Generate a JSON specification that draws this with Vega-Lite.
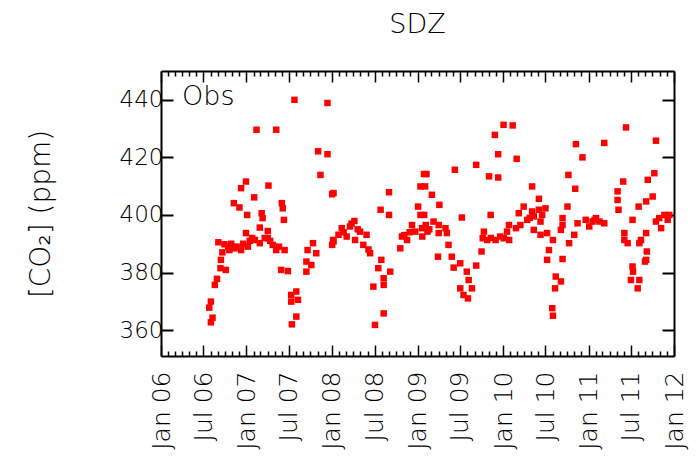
{
  "$schema": "https://vega.github.io/schema/vega-lite/v6.json",
  "width": 513,
  "height": 285,
  "autosize": "none",
  "padding": {"left": 161, "top": 71, "right": 23, "bottom": 112},
  "background": "white",
  "config": {"view": {"stroke": null}, "font": "DejaVu Sans"},
  "title": {"text": "SDZ", "font": "DejaVu Sans", "fontSize": 27, "fontWeight": 200, "color": "black", "offset": 31, "anchor": "middle"},
  "data": {"values": [
    {"date": "2006-07-26", "co2": 367.8},
    {"date": "2006-08-02", "co2": 369.9},
    {"date": "2006-08-02", "co2": 362.7},
    {"date": "2006-08-09", "co2": 364.3},
    {"date": "2006-08-19", "co2": 375.7},
    {"date": "2006-08-28", "co2": 377.8},
    {"date": "2006-09-03", "co2": 390.5},
    {"date": "2006-09-12", "co2": 381.5},
    {"date": "2006-09-14", "co2": 384.4},
    {"date": "2006-09-20", "co2": 387.0},
    {"date": "2006-09-29", "co2": 389.8},
    {"date": "2006-10-05", "co2": 380.9},
    {"date": "2006-10-15", "co2": 389.0},
    {"date": "2006-10-20", "co2": 387.8},
    {"date": "2006-10-28", "co2": 390.0},
    {"date": "2006-11-08", "co2": 404.1},
    {"date": "2006-11-11", "co2": 388.4},
    {"date": "2006-11-20", "co2": 389.0},
    {"date": "2006-12-02", "co2": 402.6},
    {"date": "2006-12-09", "co2": 409.3},
    {"date": "2006-12-09", "co2": 387.8},
    {"date": "2006-12-18", "co2": 390.0},
    {"date": "2006-12-30", "co2": 411.6},
    {"date": "2006-12-30", "co2": 393.7},
    {"date": "2007-01-04", "co2": 400.0},
    {"date": "2007-01-07", "co2": 389.0},
    {"date": "2007-01-15", "co2": 391.0},
    {"date": "2007-01-25", "co2": 392.0},
    {"date": "2007-02-03", "co2": 406.1},
    {"date": "2007-02-06", "co2": 391.3},
    {"date": "2007-02-13", "co2": 429.6},
    {"date": "2007-02-27", "co2": 395.6},
    {"date": "2007-02-27", "co2": 390.2},
    {"date": "2007-03-07", "co2": 400.6},
    {"date": "2007-03-11", "co2": 398.9},
    {"date": "2007-03-20", "co2": 392.0},
    {"date": "2007-04-02", "co2": 394.4},
    {"date": "2007-04-02", "co2": 391.9},
    {"date": "2007-04-05", "co2": 410.2},
    {"date": "2007-04-12", "co2": 391.0},
    {"date": "2007-04-23", "co2": 389.6},
    {"date": "2007-05-08", "co2": 429.6},
    {"date": "2007-05-08", "co2": 387.8},
    {"date": "2007-05-20", "co2": 389.0},
    {"date": "2007-05-29", "co2": 380.9},
    {"date": "2007-06-01", "co2": 404.1},
    {"date": "2007-06-05", "co2": 402.3},
    {"date": "2007-06-10", "co2": 398.3},
    {"date": "2007-06-13", "co2": 387.8},
    {"date": "2007-06-27", "co2": 380.5},
    {"date": "2007-07-11", "co2": 372.2},
    {"date": "2007-07-11", "co2": 369.9},
    {"date": "2007-07-14", "co2": 362.0},
    {"date": "2007-07-25", "co2": 440.0},
    {"date": "2007-08-02", "co2": 373.4},
    {"date": "2007-08-02", "co2": 364.7},
    {"date": "2007-08-09", "co2": 370.5},
    {"date": "2007-09-14", "co2": 383.8},
    {"date": "2007-09-14", "co2": 380.3},
    {"date": "2007-09-19", "co2": 387.8},
    {"date": "2007-10-05", "co2": 382.6},
    {"date": "2007-10-12", "co2": 390.2},
    {"date": "2007-10-26", "co2": 386.7},
    {"date": "2007-11-03", "co2": 422.1},
    {"date": "2007-11-13", "co2": 413.9},
    {"date": "2007-12-13", "co2": 438.9},
    {"date": "2007-12-13", "co2": 421.1},
    {"date": "2008-01-02", "co2": 407.2},
    {"date": "2008-01-02", "co2": 389.6},
    {"date": "2008-01-06", "co2": 391.3},
    {"date": "2008-01-08", "co2": 407.6},
    {"date": "2008-01-08", "co2": 390.8},
    {"date": "2008-01-29", "co2": 393.1},
    {"date": "2008-02-12", "co2": 395.4},
    {"date": "2008-02-20", "co2": 394.0},
    {"date": "2008-03-04", "co2": 392.5},
    {"date": "2008-03-18", "co2": 396.0},
    {"date": "2008-03-25", "co2": 397.0},
    {"date": "2008-04-06", "co2": 397.9},
    {"date": "2008-04-09", "co2": 391.3},
    {"date": "2008-04-20", "co2": 395.0},
    {"date": "2008-04-30", "co2": 394.2},
    {"date": "2008-05-14", "co2": 389.6},
    {"date": "2008-05-28", "co2": 393.1},
    {"date": "2008-06-05", "co2": 388.0},
    {"date": "2008-06-12", "co2": 386.7},
    {"date": "2008-06-26", "co2": 375.1},
    {"date": "2008-07-03", "co2": 361.8},
    {"date": "2008-07-17", "co2": 381.5},
    {"date": "2008-07-27", "co2": 401.8},
    {"date": "2008-07-30", "co2": 384.4},
    {"date": "2008-08-09", "co2": 378.0},
    {"date": "2008-08-09", "co2": 375.7},
    {"date": "2008-08-09", "co2": 365.8},
    {"date": "2008-09-01", "co2": 407.9},
    {"date": "2008-09-01", "co2": 400.0},
    {"date": "2008-09-06", "co2": 380.3},
    {"date": "2008-10-19", "co2": 388.4},
    {"date": "2008-10-26", "co2": 392.5},
    {"date": "2008-11-05", "co2": 393.0},
    {"date": "2008-11-17", "co2": 391.3},
    {"date": "2008-11-28", "co2": 394.0},
    {"date": "2008-12-08", "co2": 396.5},
    {"date": "2008-12-22", "co2": 394.2},
    {"date": "2009-01-03", "co2": 402.9},
    {"date": "2009-01-13", "co2": 409.9},
    {"date": "2009-01-13", "co2": 400.0},
    {"date": "2009-01-20", "co2": 395.4},
    {"date": "2009-01-21", "co2": 392.5},
    {"date": "2009-01-28", "co2": 414.2},
    {"date": "2009-01-29", "co2": 400.0},
    {"date": "2009-02-02", "co2": 409.9},
    {"date": "2009-02-05", "co2": 396.5},
    {"date": "2009-02-08", "co2": 414.2},
    {"date": "2009-02-12", "co2": 394.2},
    {"date": "2009-02-20", "co2": 395.0},
    {"date": "2009-03-03", "co2": 407.0},
    {"date": "2009-03-10", "co2": 397.7},
    {"date": "2009-03-29", "co2": 385.5},
    {"date": "2009-04-01", "co2": 396.5},
    {"date": "2009-04-01", "co2": 393.7},
    {"date": "2009-04-04", "co2": 403.5},
    {"date": "2009-04-30", "co2": 395.4},
    {"date": "2009-05-06", "co2": 393.7},
    {"date": "2009-05-13", "co2": 389.6},
    {"date": "2009-05-27", "co2": 385.5},
    {"date": "2009-06-04", "co2": 381.7},
    {"date": "2009-06-09", "co2": 415.7},
    {"date": "2009-07-02", "co2": 383.2},
    {"date": "2009-07-02", "co2": 374.5},
    {"date": "2009-07-09", "co2": 399.1},
    {"date": "2009-07-16", "co2": 372.2},
    {"date": "2009-07-30", "co2": 380.3},
    {"date": "2009-08-04", "co2": 371.0},
    {"date": "2009-08-07", "co2": 377.4},
    {"date": "2009-08-21", "co2": 374.5},
    {"date": "2009-09-08", "co2": 417.4},
    {"date": "2009-09-08", "co2": 382.4},
    {"date": "2009-10-01", "co2": 387.3},
    {"date": "2009-10-06", "co2": 391.9},
    {"date": "2009-10-11", "co2": 394.2},
    {"date": "2009-10-25", "co2": 391.3},
    {"date": "2009-11-02", "co2": 413.4},
    {"date": "2009-11-09", "co2": 400.0},
    {"date": "2009-11-10", "co2": 392.0},
    {"date": "2009-11-27", "co2": 427.8},
    {"date": "2009-11-30", "co2": 391.3},
    {"date": "2009-12-11", "co2": 421.1},
    {"date": "2009-12-11", "co2": 413.0},
    {"date": "2009-12-20", "co2": 392.5},
    {"date": "2010-01-03", "co2": 431.3},
    {"date": "2010-01-04", "co2": 391.9},
    {"date": "2010-01-18", "co2": 394.2},
    {"date": "2010-01-26", "co2": 396.5},
    {"date": "2010-01-27", "co2": 391.3},
    {"date": "2010-02-11", "co2": 431.1},
    {"date": "2010-02-25", "co2": 395.4},
    {"date": "2010-02-28", "co2": 419.5},
    {"date": "2010-03-09", "co2": 400.6},
    {"date": "2010-03-16", "co2": 396.5},
    {"date": "2010-03-30", "co2": 402.9},
    {"date": "2010-04-14", "co2": 398.3},
    {"date": "2010-04-25", "co2": 399.0},
    {"date": "2010-05-05", "co2": 409.9},
    {"date": "2010-05-05", "co2": 401.2},
    {"date": "2010-05-12", "co2": 399.5},
    {"date": "2010-05-12", "co2": 394.8},
    {"date": "2010-06-03", "co2": 405.6},
    {"date": "2010-06-03", "co2": 401.8},
    {"date": "2010-06-10", "co2": 397.7},
    {"date": "2010-06-10", "co2": 393.1},
    {"date": "2010-06-17", "co2": 400.0},
    {"date": "2010-07-01", "co2": 402.3},
    {"date": "2010-07-08", "co2": 393.7},
    {"date": "2010-07-08", "co2": 384.4},
    {"date": "2010-07-16", "co2": 387.8},
    {"date": "2010-07-30", "co2": 367.6},
    {"date": "2010-08-02", "co2": 391.3},
    {"date": "2010-08-02", "co2": 365.0},
    {"date": "2010-08-11", "co2": 374.5},
    {"date": "2010-08-14", "co2": 378.6},
    {"date": "2010-09-05", "co2": 394.8},
    {"date": "2010-09-05", "co2": 376.9},
    {"date": "2010-09-12", "co2": 398.9},
    {"date": "2010-09-12", "co2": 396.5},
    {"date": "2010-09-12", "co2": 384.7},
    {"date": "2010-10-03", "co2": 402.9},
    {"date": "2010-10-07", "co2": 413.9},
    {"date": "2010-10-10", "co2": 390.2},
    {"date": "2010-11-01", "co2": 393.1},
    {"date": "2010-11-05", "co2": 409.1},
    {"date": "2010-11-08", "co2": 424.6},
    {"date": "2010-11-15", "co2": 397.1},
    {"date": "2010-12-06", "co2": 420.0},
    {"date": "2010-12-20", "co2": 398.3},
    {"date": "2011-01-04", "co2": 396.0},
    {"date": "2011-01-18", "co2": 397.7},
    {"date": "2011-01-27", "co2": 398.3},
    {"date": "2011-02-02", "co2": 398.9},
    {"date": "2011-02-17", "co2": 397.7},
    {"date": "2011-03-09", "co2": 425.0},
    {"date": "2011-03-09", "co2": 397.1},
    {"date": "2011-05-05", "co2": 408.2},
    {"date": "2011-05-05", "co2": 405.2},
    {"date": "2011-05-09", "co2": 401.8},
    {"date": "2011-05-29", "co2": 411.6},
    {"date": "2011-06-03", "co2": 393.7},
    {"date": "2011-06-03", "co2": 391.3},
    {"date": "2011-06-10", "co2": 430.4},
    {"date": "2011-06-17", "co2": 390.2},
    {"date": "2011-07-01", "co2": 377.4},
    {"date": "2011-07-08", "co2": 398.3},
    {"date": "2011-07-08", "co2": 382.1},
    {"date": "2011-07-10", "co2": 380.3},
    {"date": "2011-07-30", "co2": 374.5},
    {"date": "2011-08-03", "co2": 402.9},
    {"date": "2011-08-06", "co2": 390.2},
    {"date": "2011-08-06", "co2": 377.4},
    {"date": "2011-08-13", "co2": 391.3},
    {"date": "2011-08-30", "co2": 383.8},
    {"date": "2011-09-04", "co2": 404.7},
    {"date": "2011-09-04", "co2": 393.7},
    {"date": "2011-09-04", "co2": 384.4},
    {"date": "2011-09-07", "co2": 387.3},
    {"date": "2011-09-11", "co2": 412.2},
    {"date": "2011-10-02", "co2": 406.4},
    {"date": "2011-10-09", "co2": 414.5},
    {"date": "2011-10-16", "co2": 425.8},
    {"date": "2011-10-16", "co2": 397.7},
    {"date": "2011-10-30", "co2": 398.9},
    {"date": "2011-11-07", "co2": 395.4},
    {"date": "2011-11-21", "co2": 400.0},
    {"date": "2011-12-05", "co2": 398.3},
    {"date": "2011-12-12", "co2": 400.0}
  ]},
  "layer": [
    {
      "mark": {"type": "square", "size": 42, "opacity": 1, "filled": true},
      "encoding": {
        "x": {
          "field": "date", "type": "temporal",
          "scale": {"type": "utc", "domain": [{"year": 2006, "month": 1, "date": 1, "utc": true}, {"year": 2012, "month": 1, "date": 1, "utc": true}], "nice": false},
          "axis": {
            "title": null, "orient": "bottom",
            "tickCount": {"interval": "month", "step": 1},
            "tickSize": {"condition": {"test": "utcmonth(datum.value) % 6 === 0", "value": -11}, "value": -5},
            "tickWidth": 1.5, "tickColor": "black",
            "domainColor": "black", "domainWidth": 2,
            "labelExpr": "utcmonth(datum.value) % 6 === 0 ? utcFormat(datum.value, '%b %y') : ''",
            "labelAngle": 270, "labelAlign": "right", "labelBaseline": "middle",
            "labelFont": "DejaVu Sans", "labelFontSize": 25, "labelFontWeight": 200, "labelColor": "black",
            "labelPadding": 26, "labelOverlap": false, "labelBound": false, "labelFlush": false,
            "grid": false
          }
        },
        "y": {
          "field": "co2", "type": "quantitative",
          "scale": {"domain": [351, 450], "nice": false, "zero": false},
          "axis": {
            "title": "[CO₂] (ppm)", "orient": "left",
            "values": [360, 380, 400, 420, 440],
            "tickSize": -12, "tickWidth": 2, "tickColor": "black",
            "domainColor": "black", "domainWidth": 2,
            "labelFont": "DejaVu Sans", "labelFontSize": 23, "labelFontWeight": 200, "labelColor": "black", "labelPadding": 10,
            "titleFont": "DejaVu Sans", "titleFontSize": 28, "titleFontWeight": 200, "titleColor": "black", "titlePadding": 64,
            "grid": false
          }
        },
        "color": {"datum": "Obs", "scale": {"range": ["#ff0000"]},
          "legend": {"title": null, "orient": "none", "legendX": -6, "legendY": 12, "padding": 0, "symbolOpacity": 0, "symbolSize": 1, "labelOffset": 0,
            "labelFont": "DejaVu Sans", "labelFontSize": 27, "labelFontWeight": 200, "labelColor": "black"}}
      }
    },
    {
      "mark": {"type": "point", "opacity": 0},
      "encoding": {
        "x": {
          "field": "date", "type": "temporal",
          "axis": {
            "title": null, "orient": "top",
            "tickCount": {"interval": "month", "step": 1},
            "tickSize": {"condition": {"test": "utcmonth(datum.value) % 6 === 0", "value": -11}, "value": -5},
            "tickWidth": 1.5, "tickColor": "black",
            "domainColor": "black", "domainWidth": 2,
            "labels": false, "grid": false
          }
        },
        "y": {
          "field": "co2", "type": "quantitative",
          "axis": {
            "title": null, "orient": "right",
            "values": [360, 380, 400, 420, 440],
            "tickSize": -12, "tickWidth": 2, "tickColor": "black",
            "domainColor": "black", "domainWidth": 2,
            "labels": false, "grid": false
          }
        }
      }
    }
  ],
  "resolve": {"axis": {"x": "independent", "y": "independent"}}
}
